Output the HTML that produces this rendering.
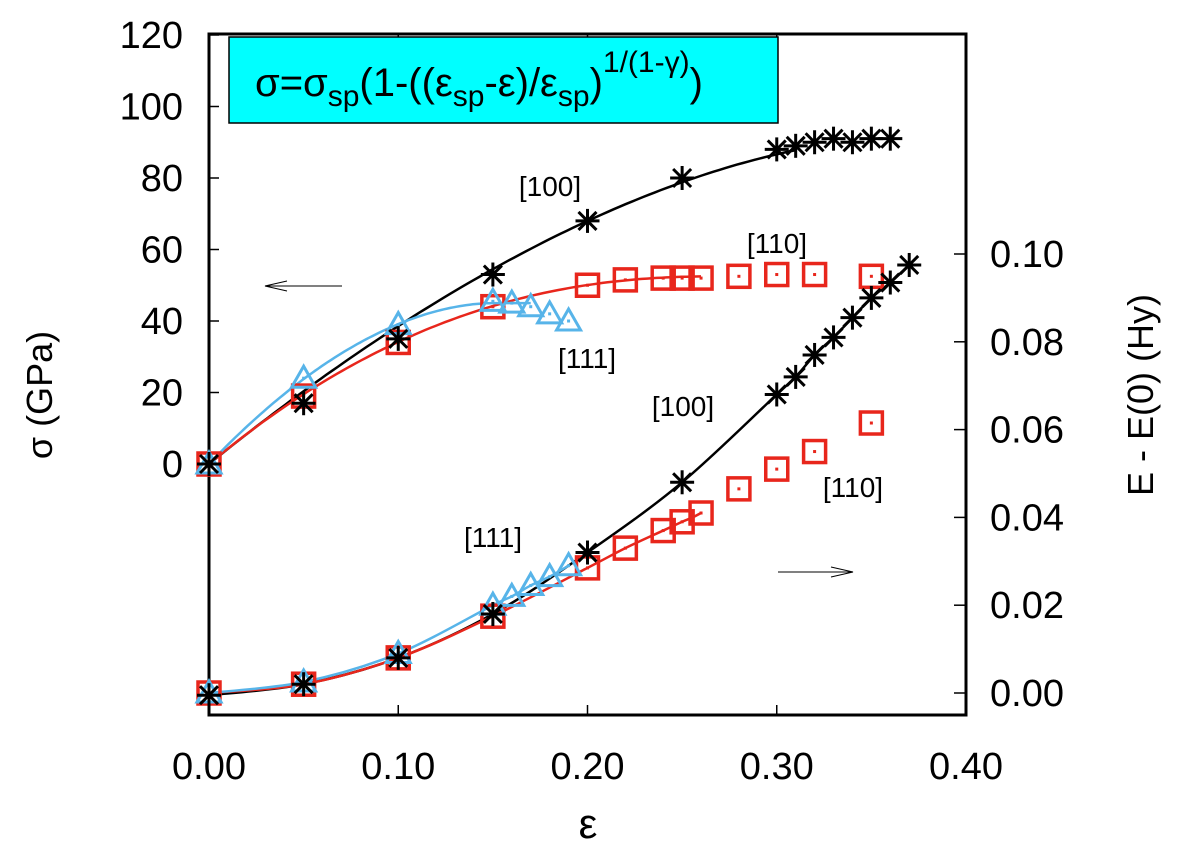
<!DOCTYPE html>
<html><head><meta charset="utf-8"><style>
html,body{margin:0;padding:0;background:#fff;}
svg text{font-family:"Liberation Sans",sans-serif;}
</style></head><body>
<svg id="chart" width="1193" height="847" viewBox="0 0 1193 847" xmlns="http://www.w3.org/2000/svg">
<g id="plot"></g>
</svg>
<script>
// ---- data ----
const xTicks=[0,0.1,0.2,0.3,0.4];
const xTickLabels=["0.00","0.10","0.20","0.30","0.40"];
const yLeftTicks=[0,20,40,60,80,100,120];
const yRightTicks=[0,0.02,0.04,0.06,0.08,0.10];
const yRightTickLabels=["0.00","0.02","0.04","0.06","0.08","0.10"];

const s100x=[0,0.05,0.10,0.15,0.20,0.25,0.30,0.31,0.32,0.33,0.34,0.35,0.36];
const s100y=[0,17,35,53,68,80,88,89,90,91,90,91,91];
const s110x=[0,0.05,0.10,0.15,0.20,0.22,0.24,0.25,0.26,0.28,0.30,0.32,0.35];
const s110y=[0,19,34,44,50,51.5,52,52,52,52.5,53,53,52.5];
const s111x=[0,0.05,0.10,0.15,0.16,0.17,0.18,0.19];
const s111y=[0,24,39,45.5,45,44,42,40];
// fit params: sigma_sp, eps_sp, gamma, plot-end
const fit100=[91,0.36,0.41,0.31];
const fit110=[52.5,0.27,0.56,0.26];
const fit111=[45,0.15,0.46,0.17];

const e100x=[0,0.05,0.10,0.15,0.20,0.25,0.30,0.31,0.32,0.33,0.34,0.35,0.36,0.37];
const e100y=[-0.0005,0.002,0.008,0.018,0.032,0.048,0.068,0.072,0.077,0.081,0.0855,0.090,0.0935,0.0975];
const e110x=[0,0.05,0.10,0.15,0.20,0.22,0.24,0.25,0.26,0.28,0.30,0.32,0.35];
const e110y=[0,0.002,0.008,0.0175,0.0285,0.033,0.037,0.039,0.041,0.0465,0.051,0.055,0.0615];
const e111x=[0,0.05,0.10,0.15,0.16,0.17,0.18,0.19];
const e111y=[0,0.0025,0.009,0.020,0.022,0.0245,0.0265,0.029];

// ---- axes ----
const L=209,R=966,T=34,B=715;
const X=v=>L+v/0.4*(R-L);
const YL=v=>464-v*3.575;
const YR=v=>693-v*4390;
const NS="http://www.w3.org/2000/svg";
const g=document.getElementById('plot');
function mk(tag,attrs,parent){const e=document.createElementNS(NS,tag);for(const k in attrs)e.setAttribute(k,attrs[k]);(parent||g).appendChild(e);return e;}

const fr=mk('rect',{x:L,y:T,width:R-L,height:B-T,fill:'none',stroke:'#000','stroke-width':3});



xTicks.forEach((v,i)=>{
  const t=mk('line',{x1:X(v),x2:X(v),y1:B,y2:B-10,stroke:'#000','stroke-width':1.5});
  
  
  mk('line',{x1:X(v),x2:X(v),y1:T,y2:T+10,stroke:'#000','stroke-width':1.5});
  const l=mk('text',{x:X(v),y:779,'font-size':38,'text-anchor':'middle'});l.textContent=xTickLabels[i];
  
  
});
yLeftTicks.forEach(v=>{
  mk('line',{x1:L,x2:L+10,y1:YL(v),y2:YL(v),stroke:'#000','stroke-width':1.5});
  const l=mk('text',{x:183,y:YL(v)+13,'font-size':38,'text-anchor':'end'});l.textContent=v;
  
  
});
yRightTicks.forEach((v,i)=>{
  mk('line',{x1:R-12,x2:R,y1:YR(v),y2:YR(v),stroke:'#000','stroke-width':1.5});
  const l=mk('text',{x:990,y:YR(v)+13,'font-size':38,'text-anchor':'start'});l.textContent=yRightTickLabels[i];
  
  
});

let t=mk('text',{x:0,y:0,'font-size':36,'text-anchor':'middle',transform:'translate(52,395) rotate(-90)'});t.textContent='σ (GPa)';

t=mk('text',{x:0,y:0,'font-size':36,'text-anchor':'middle',transform:'translate(1153,395) rotate(-90)'});t.textContent='E - E(0) (Hy)';

t=mk('text',{x:588,y:838,'font-size':42,'text-anchor':'middle','font-family':'Liberation Serif, serif'});t.textContent='ε';


const box=mk('rect',{x:229,y:37,width:549,height:86,fill:'#00ffff',stroke:'#000','stroke-width':1.5});

const ft=mk('text',{x:255,y:96,'font-size':40});

ft.innerHTML='σ=σ<tspan dy="10" font-size="30">sp</tspan><tspan dy="-10">(1-((ε</tspan><tspan dy="10" font-size="30">sp</tspan><tspan dy="-10">-ε)/ε</tspan><tspan dy="10" font-size="30">sp</tspan><tspan dy="-10">)</tspan><tspan dy="-24" font-size="30">1/(1-γ)</tspan><tspan dy="24">)</tspan>';

function fitCurve(p,color,name){
  const [ss,es,gm,end]=p;const n=1/(1-gm);let d='';
  for(let i=0;i<=100;i++){const e=end*i/100;const r=Math.max(0,(es-e)/es);const s=ss*(1-Math.pow(r,n));d+=(i?'L':'M')+X(e).toFixed(1)+','+YL(s).toFixed(1);}
  const p2=mk('path',{d,fill:'none',stroke:color,'stroke-width':2.5});
  
}
function smooth(xs,ys,color,name,end){
  const P=xs.map((x,i)=>[X(x),YR(ys[i])]);let d='M'+P[0][0]+','+P[0][1];
  const m=end==null?P.length-1:end;
  for(let i=0;i<m;i++){const p0=P[Math.max(0,i-1)],p1=P[i],p2=P[i+1],p3=P[Math.min(P.length-1,i+2)];
    d+='C'+(p1[0]+(p2[0]-p0[0])/6)+','+(p1[1]+(p2[1]-p0[1])/6)+' '+(p2[0]-(p3[0]-p1[0])/6)+','+(p2[1]-(p3[1]-p1[1])/6)+' '+p2[0]+','+p2[1];}
  const pa=mk('path',{d,fill:'none',stroke:color,'stroke-width':2.5});
  
}
fitCurve(fit100,'#000','fit-line-100');
fitCurve(fit110,'#e8261c','fit-line-110');
fitCurve(fit111,'#57b4e9','fit-line-111');
smooth(e100x,e100y,'#000','energy-line-100');
smooth(e110x,e110y,'#e8261c','energy-line-110',8);
smooth(e111x,e111y,'#57b4e9','energy-line-111');

function star(cx,cy,name){const s=mk('g',{stroke:'#000','stroke-width':3});
  
  const r=12,q=9;
  mk('line',{x1:cx-r,x2:cx+r,y1:cy,y2:cy},s);mk('line',{x1:cx,x2:cx,y1:cy-r,y2:cy+r},s);
  mk('line',{x1:cx-q,x2:cx+q,y1:cy-q,y2:cy+q},s);mk('line',{x1:cx-q,x2:cx+q,y1:cy+q,y2:cy-q},s);}
function square(cx,cy,name){const s=mk('g',{});
  
  mk('rect',{x:cx-11,y:cy-11,width:22,height:22,fill:'none',stroke:'#e8261c','stroke-width':3.5},s);
  mk('rect',{x:cx-1.5,y:cy-1.5,width:3,height:3,fill:'#e8261c'},s);}
function tri(cx,cy,name){const s=mk('g',{});
  
  mk('polygon',{points:`${cx},${cy-12} ${cx-12},${cy+9} ${cx+12},${cy+9}`,fill:'none',stroke:'#57b4e9','stroke-width':3},s);
  mk('rect',{x:cx-1.5,y:cy-1.5,width:3,height:3,fill:'#57b4e9'},s);}

s110x.forEach((x,i)=>square(X(x),YL(s110y[i]),'stress-110-point'));
e110x.forEach((x,i)=>square(X(x),YR(e110y[i]),'energy-110-point'));
s111x.forEach((x,i)=>tri(X(x),YL(s111y[i]),'stress-111-point'));
e111x.forEach((x,i)=>tri(X(x),YR(e111y[i]),'energy-111-point'));
s100x.forEach((x,i)=>star(X(x),YL(s100y[i]),'stress-100-point'));
e100x.forEach((x,i)=>star(X(x),YR(e100y[i]),'energy-100-point'));

[['[100]',550,196],['[110]',777,253],['[111]',587,368],['[100]',683,416],['[110]',853,497],['[111]',493,547]].forEach(a=>{
  const l=mk('text',{x:a[1],y:a[2],'font-size':28,'text-anchor':'middle'});l.textContent=a[0];
  
});
function arrow(x1,x2,y,name){const a=mk('g',{stroke:'#000','stroke-width':1,fill:'none'});
  
  mk('line',{x1,x2,y1:y,y2:y},a);const d=x2>x1?-1:1;
  mk('polyline',{points:`${x2+d*22},${y-5} ${x2},${y} ${x2+d*22},${y+5}`},a);}
arrow(342,265,286,'left-axis-arrow');
arrow(778,853,572,'right-axis-arrow');
</script>
</body></html>
